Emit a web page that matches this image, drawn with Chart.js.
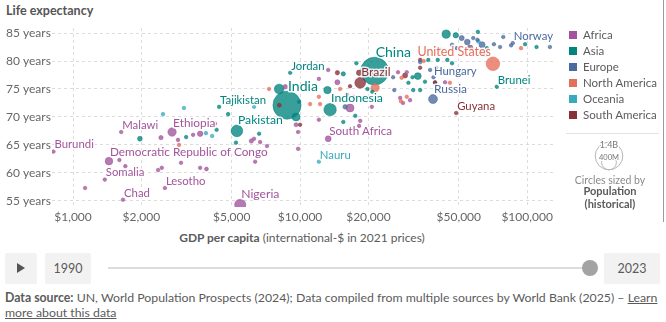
<!DOCTYPE html>
<html>
<head>
<meta charset="utf-8">
<script src="https://cdn.jsdelivr.net/npm/chart.js@4.4.1/dist/chart.umd.min.js"></script>
<style>
  body { margin: 0; width: 666px; height: 322px; overflow: hidden; background: #fff; font-family: Lato, sans-serif; color: #5b5b5b; position: relative; }
  .abs { position: absolute; white-space: nowrap; }
  #chart { position: absolute; left: 0; top: 0; }
  .sq { position: absolute; width: 8px; height: 8px; }
  .box { position: absolute; top: 253px; height: 31px; background: #f2f2f2; border-radius: 2px; font-size: 12.5px; line-height: 31px; text-align: center; }
</style>
</head>
<body>
<div class="abs" style="left:6px;top:3px;font-size:12.5px;font-weight:700;color:#555">Life expectancy</div>
<canvas id="chart" width="666" height="228"></canvas>
<div class="abs" style="left:302px;top:230px;transform:translateX(-50%);font-size:12px"><b>GDP per capita</b> (international-$ in 2021 prices)</div>

<div id="legend"></div>
<div class="abs" style="left:566px;top:133px;width:93px;height:1px;background:#e3e3e3"></div>
<svg class="abs" style="left:585px;top:138px" width="50" height="40">
  <circle cx="24" cy="18" r="13.8" fill="none" stroke="#b5b5b5" stroke-width="1"/>
  <circle cx="24" cy="24.4" r="7.4" fill="none" stroke="#b5b5b5" stroke-width="1"/>
  <text x="24" y="9.5" text-anchor="middle" font-family="Lato" font-size="9" fill="#777" stroke="#fff" stroke-width="2.5" paint-order="stroke">1.4B</text>
  <text x="24" y="21.5" text-anchor="middle" font-family="Lato" font-size="7.5" fill="#777" stroke="#fff" stroke-width="2" paint-order="stroke">400M</text>
</svg>
<div class="abs" style="left:610px;top:174px;transform:translateX(-50%);font-size:10.5px;color:#8a8a8a">Circles sized by</div>
<div class="abs" style="left:610px;top:185px;transform:translateX(-50%);font-size:11px;font-weight:700;text-align:center;line-height:12.5px">Population<br>(historical)</div>
<div class="abs" style="left:663px;top:0;width:1px;height:222px;background:#9a9a9a"></div>

<div class="box" style="left:5px;width:32px"><span style="display:inline-block;width:0;height:0;border-top:5px solid transparent;border-bottom:5px solid transparent;border-left:8px solid #555;margin-top:10px;vertical-align:top"></span></div>
<div class="box" style="left:45px;width:46px">1990</div>
<div class="abs" style="left:108px;top:267px;width:482px;height:2px;background:#dcdcdc"></div>
<div class="abs" style="left:582px;top:260px;width:16px;height:16px;border-radius:50%;background:#a3a3a3"></div>
<div class="box" style="left:604px;width:56px">2023</div>

<div class="abs" style="left:5px;top:290px;font-size:12.3px;line-height:15px"><b>Data source:</b> UN, World Population Prospects (2024); Data compiled from multiple sources by World Bank (2025) – <u>Learn</u><br><u>more about this data</u></div>

<script>
// [country label, GDP per capita (int.-$), life expectancy (years), population (millions)]
const africa = [
  ['Burundi', 820, 63.8, 13.2],
  ['', 1130, 57.3, 5.7],
  ['Somalia', 1380, 58.8, 18.1],
  ['Democratic Republic of Congo', 1440, 62.1, 105],
  ['', 1600, 62.3, 10],
  ['Malawi', 1630, 67.3, 21],
  ['Chad', 1660, 55.2, 19],
  ['', 1700, 61.2, 18],
  ['', 2370, 60.5, 8.5],
  ['', 2460, 60.9, 9],
  ['', 2440, 66.3, 34],
  ['Lesotho', 2540, 57.3, 2.3],
  ['', 2540, 63.9, 10],
  ['Ethiopia', 2730, 67.3, 127],
  ['', 2900, 65.9, 14],
  ['', 2990, 61.8, 17],
  ['', 3380, 66.8, 8],
  ['', 3630, 67.0, 55],
  ['', 3630, 60.9, 6],
  ['', 3870, 60.7, 28],
  ['', 4220, 68.8, 4],
  ['Nigeria', 5450, 54.3, 228],
  ['', 6100, 65.7, 34],
  ['', 6270, 66.1, 6],
  ['', 6340, 62.0, 5],
  ['', 6670, 65.5, 20],
  ['', 7150, 64.8, 12],
  ['', 8600, 75.4, 38],
  ['', 9600, 68.6, 30],
  ['', 9800, 67.3, 3],
  ['', 9800, 64.3, 2.5],
  ['', 12100, 69.5, 3],
  ['South Africa', 13300, 66.1, 63],
  ['', 14600, 76.2, 46],
  ['', 12100, 76.8, 3],
  ['', 13300, 78.4, 2],
  ['', 16600, 71.6, 114],
  ['', 17200, 73.6, 3],
  ['', 18200, 68.4, 2],
  ['', 18400, 69.3, 2.4],
  ['', 20700, 71.8, 7],
  ['', 27600, 73.4, 12],
  ['', 28400, 72.5, 3],
  ['', 30500, 73.0, 2],
  ['', 29500, 78.0, 1.3],
  ['', 27000, 78.0, 2],
  ['', 43500, 76.2, 1.3]
];
const asia = [
  ['', 1970, 66.1, 42],
  ['', 3150, 66.4, 3],
  ['', 4290, 67.7, 3],
  ['Tajikistan', 4400, 71.8, 10],
  ['', 4820, 70.5, 7],
  ['Pakistan', 5270, 67.5, 247],
  ['', 5220, 65.4, 4],
  ['', 6600, 67.0, 2],
  ['', 8090, 75.0, 171],
  ['India', 8760, 72.1, 1440],
  ['', 9600, 70.0, 115],
  ['', 9900, 72.7, 5],
  ['Jordan', 9050, 77.9, 11.3],
  ['', 13200, 74.8, 100],
  ['Indonesia', 13560, 71.3, 280],
  ['', 15500, 69.1, 2],
  ['', 17500, 70.2, 4],
  ['', 15500, 77.7, 35],
  ['', 17700, 79.6, 3],
  ['China', 21300, 78.2, 1410],
  ['', 20800, 74.5, 4],
  ['', 19800, 75.0, 7],
  ['', 33000, 77.3, 85],
  ['', 31300, 77.1, 5],
  ['', 35500, 76.3, 5],
  ['', 33800, 74.8, 5],
  ['', 31500, 74.8, 4],
  ['', 30000, 76.1, 3],
  ['', 36700, 80.2, 3],
  ['', 40400, 80.2, 2],
  ['', 44500, 80.2, 5],
  ['', 46700, 79.6, 10],
  ['', 51000, 78.0, 36],
  ['', 44000, 84.8, 124],
  ['', 48500, 84.6, 52],
  ['', 60700, 85.2, 7.5],
  ['', 66500, 82.3, 10],
  ['Brunei', 73500, 75.4, 0.45],
  ['', 98000, 83.0, 6],
  ['', 110000, 82.5, 3]
];
const europe = [
  ['Russia', 38500, 73.2, 145],
  ['Hungary', 37400, 78.4, 9.6],
  ['Norway', 86500, 83.2, 5.5],
  ['', 25700, 77.1, 3],
  ['', 26000, 74.8, 4],
  ['', 15800, 71.8, 38],
  ['', 38700, 77.1, 6],
  ['', 39300, 76.1, 4],
  ['', 33800, 79.8, 4],
  ['', 39700, 78.8, 2],
  ['', 43500, 78.0, 3],
  ['', 41400, 82.0, 10],
  ['', 46700, 82.9, 10],
  ['', 49000, 82.3, 4],
  ['', 51500, 84.1, 47],
  ['', 54500, 83.4, 59],
  ['', 56000, 82.3, 68],
  ['', 57900, 84.1, 9],
  ['', 60400, 83.8, 10],
  ['', 63300, 82.9, 68],
  ['', 65000, 81.4, 84],
  ['', 71400, 83.0, 11.8],
  ['', 76000, 82.5, 17.9],
  ['', 78500, 84.3, 5],
  ['', 85000, 82.8, 5],
  ['', 126000, 82.5, 0.66]
];
const northAmerica = [
  ['United States', 70700, 79.5, 340],
  ['', 2930, 65.0, 11.7],
  ['', 7300, 75.0, 10],
  ['', 11070, 72.3, 17],
  ['', 12100, 73.6, 6],
  ['', 12250, 72.3, 6],
  ['', 15000, 75.0, 6],
  ['', 21400, 75.2, 129],
  ['', 29500, 73.6, 11],
  ['', 27800, 72.8, 1],
  ['', 28000, 77.0, 4],
  ['', 35000, 80.0, 5],
  ['', 45700, 76.1, 1.5],
  ['', 56000, 82.2, 39],
  ['', 94000, 82.3, 0.06]
];
const oceania = [
  ['Nauru', 12100, 62.0, 0.012],
  ['', 2490, 70.5, 0.8],
  ['', 3080, 71.6, 0.3],
  ['', 3850, 67.1, 10],
  ['', 4100, 66.6, 0.13],
  ['', 6270, 71.8, 0.2],
  ['', 61000, 83.5, 27],
  ['', 50000, 82.3, 5]
];
const southAmerica = [
  ['Brazil', 18400, 76.1, 211],
  ['Guyana', 48700, 70.7, 0.8],
  ['', 18200, 77.9, 52],
  ['', 14600, 77.9, 34],
  ['', 16600, 75.5, 18],
  ['', 29000, 77.4, 46],
  ['', 33800, 80.2, 20],
  ['', 33800, 78.8, 3.4],
  ['', 39300, 76.2, 3],
  ['', 10000, 68.6, 12],
  ['', 8100, 72.1, 28],
  ['', 16100, 74.0, 7]
];

const continents = ['Africa', 'Asia', 'Europe', 'North America', 'Oceania', 'South America'];
const continentColors = ['#a2559c', '#00847e', '#4c6a9c', '#e56e5a', '#38aaba', '#883039'];
const xTicks = [1000, 2000, 5000, 10000, 20000, 50000, 100000];
const yTicks = [55, 60, 65, 70, 75, 80, 85];

// labels that don't sit above-right of their bubble
const labelSide = { 'United States': 'left', 'Hungary': 'right' };

const groups = [africa, asia, europe, northAmerica, oceania, southAmerica];

// legend
const legend = document.getElementById('legend');
continents.forEach((name, i) => {
  const y = 31 + i * 16;
  legend.insertAdjacentHTML('beforeend',
    `<div class="sq" style="left:569px;top:${y}px;background:${continentColors[i]}"></div>` +
    `<div class="abs" style="left:583px;top:${y - 4}px;font-size:11.5px;line-height:15px">${name}</div>`);
});

function hexA(hex, a) {
  const n = parseInt(hex.slice(1), 16);
  return `rgba(${n >> 16},${(n >> 8) & 255},${n & 255},${a})`;
}
const sizeOf = pop => Math.max(1.8, 0.37 * Math.sqrt(pop));

// one dataset, biggest bubbles drawn first
const points = [];
groups.forEach((rows, ci) => {
  rows.forEach(([name, gdp, life, pop]) => {
    points.push({ x: gdp, y: life, pop: pop, name: name, color: continentColors[ci] });
  });
});
points.sort((a, b) => b.pop - a.pop);

const labelPlugin = {
  id: 'countryLabels',
  afterDatasetsDraw(chart) {
    const ctx = chart.ctx;
    const meta = chart.getDatasetMeta(0);
    ctx.save();
    meta.data.forEach((el, i) => {
      const p = points[i];
      if (!p.name) return;
      const r = el.options.radius;
      const size = 11.4 + 0.22 * (r - 2);
      ctx.font = size + 'px Lato';
      ctx.textBaseline = 'middle';
      let x = el.x + 1, y = el.y - r - 5;
      ctx.textAlign = 'left';
      if (labelSide[p.name] === 'left') { x = el.x - 2; ctx.textAlign = 'right'; }
      if (labelSide[p.name] === 'right') { x = el.x + r + 2; y = el.y + 1; }
      ctx.lineJoin = 'round';
      ctx.lineWidth = 3;
      ctx.strokeStyle = 'rgba(255,255,255,0.85)';
      ctx.strokeText(p.name, x, y);
      ctx.fillStyle = p.color;
      ctx.fillText(p.name, x, y);
    });
    ctx.restore();
  }
};

const tickFont = { family: 'Lato', size: 12 };

new Chart(document.getElementById('chart'), {
  type: 'bubble',
  data: {
    datasets: [{
      data: points,
      backgroundColor: c => hexA(c.raw.color, 0.78),
      borderColor: c => hexA(c.raw.color, 0.9),
      borderWidth: 0.6,
      radius: c => sizeOf(c.raw.pop)
    }]
  },
  options: {
    responsive: false,
    animation: false,
    events: [],
    layout: { padding: { left: 6, right: 113, top: 28, bottom: 0 } },
    plugins: { legend: { display: false }, tooltip: { enabled: false } },
    scales: {
      x: {
        type: 'logarithmic',
        min: 808,
        max: 130000,
        afterBuildTicks: s => { s.ticks = xTicks.map(v => ({ value: v })); },
        afterFit: s => { s.height = 21; },
        ticks: {
          callback: v => '$' + Number(v).toLocaleString('en-US'),
          color: '#666', font: tickFont, padding: 3, maxRotation: 0, autoSkip: false
        },
        grid: { color: '#dcdcdc', drawTicks: false },
        border: { display: false, dash: [3, 3] }
      },
      y: {
        min: 53.9,
        max: 85.9,
        afterBuildTicks: s => { s.ticks = yTicks.map(v => ({ value: v })); },
        afterFit: s => { s.width = 46; },
        ticks: {
          callback: v => v + ' years',
          color: '#666', font: tickFont, crossAlign: 'far', padding: 0
        },
        grid: { color: '#dcdcdc', drawTicks: false },
        border: { display: false, dash: [3, 3] }
      }
    }
  },
  plugins: [labelPlugin]
});
</script>
</body>
</html>
